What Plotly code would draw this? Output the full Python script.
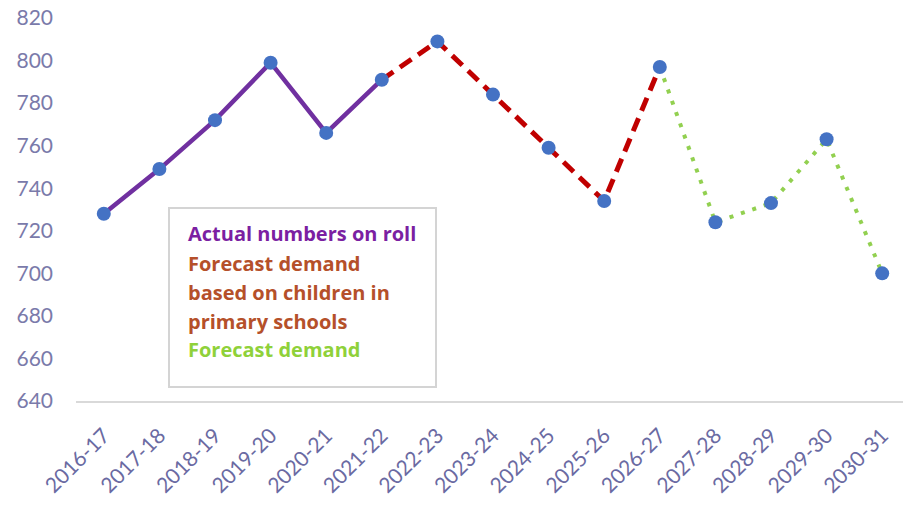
import plotly.graph_objects as go

# School years on the horizontal axis
years = ["2016-17", "2017-18", "2018-19", "2019-20", "2020-21", "2021-22", "2022-23",
         "2023-24", "2024-25", "2025-26", "2026-27", "2027-28", "2028-29", "2029-30", "2030-31"]

# Actual numbers on roll (2016-17 .. 2021-22)
actual = [728, 749, 772, 799, 766, 791]
# Forecast based on children in primary schools (2021-22 .. 2026-27)
forecast_primary = [791, 809, 784, 759, 734, 797]
# Forecast demand (2026-27 .. 2030-31)
forecast = [797, 724, 733, 763, 700]

y_ticks = [640, 660, 680, 700, 720, 740, 760, 780, 800, 820]

n_act = len(actual)
n_fp = len(forecast_primary)
idx_actual = list(range(0, n_act))
idx_fp = list(range(n_act - 1, n_act - 1 + n_fp))
idx_fc = list(range(idx_fp[-1], idx_fp[-1] + len(forecast)))

all_idx = idx_actual + idx_fp[1:] + idx_fc[1:]
all_vals = actual + forecast_primary[1:] + forecast[1:]

PURPLE = "#7030A0"
RED = "#C00000"
GREEN = "#92D050"
BLUE = "#4472C4"

fig = go.Figure()
fig.add_trace(go.Scatter(x=idx_actual, y=actual, mode="lines",
                         line=dict(color=PURPLE, width=4.5), hoverinfo="skip"))
fig.add_trace(go.Scatter(x=idx_fp, y=forecast_primary, mode="lines",
                         line=dict(color=RED, width=5, dash="14px,8px"), hoverinfo="skip"))
fig.add_trace(go.Scatter(x=idx_fc, y=forecast, mode="lines",
                         line=dict(color=GREEN, width=4, dash="4px,8px"), hoverinfo="skip"))
fig.add_trace(go.Scatter(x=all_idx, y=all_vals, mode="markers",
                         marker=dict(color=BLUE, size=14, line=dict(width=0)),
                         text=years, hovertemplate="%{text}: %{y}<extra></extra>"))

L, R, T, B = 76, 0, 18, 107
W, H = 903, 508
pw, ph = W - L - R, H - T - B

def px(xp):
    return (xp - L) / pw

def py(yp):
    return (H - B - yp) / ph

# Key box with coloured text lines
fig.add_shape(type="rect", xref="paper", yref="paper",
              x0=px(169), x1=px(436), y0=py(387), y1=py(208),
              line=dict(color="#d4d4d4", width=2), fillcolor="white", layer="above")

key_lines = [
    ("Actual numbers on roll", "#7B1FA2", 233),
    ("Forecast demand", "#B5502A", 263),
    ("based on children in", "#B5502A", 292),
    ("primary schools", "#B5502A", 321.5),
    ("Forecast demand", "#8FD13A", 349),
]
for txt, col, yy in key_lines:
    fig.add_annotation(text="<b>" + txt + "</b>", xref="paper", yref="paper",
                       x=px(186), y=py(yy), xanchor="left", yanchor="middle",
                       showarrow=False,
                       font=dict(family="Open Sans, sans-serif", size=20, color=col))

fig.update_layout(
    width=W, height=H,
    margin=dict(l=L, r=R, t=T, b=B),
    paper_bgcolor="white", plot_bgcolor="white",
    showlegend=False,
    xaxis=dict(
        range=[-0.5, (pw / 55.6) - 0.5],
        tickmode="array", tickvals=list(range(len(years))), ticktext=years,
        tickangle=-45, showgrid=False, zeroline=False,
        showline=True, linecolor="#d9d9d9", linewidth=2,
        ticks="", ticklabelstandoff=12,
        tickfont=dict(family="Lato, sans-serif", size=21, color="#6a6aa2"),
    ),
    yaxis=dict(
        range=[640, 820], tickmode="array", tickvals=y_ticks,
        showgrid=False, zeroline=False, showline=False, ticks="",
        ticklabelstandoff=22,
        tickfont=dict(family="Lato, sans-serif", size=21, color="#7a7aaa"),
    ),
)

fig.write_html("out.html")
